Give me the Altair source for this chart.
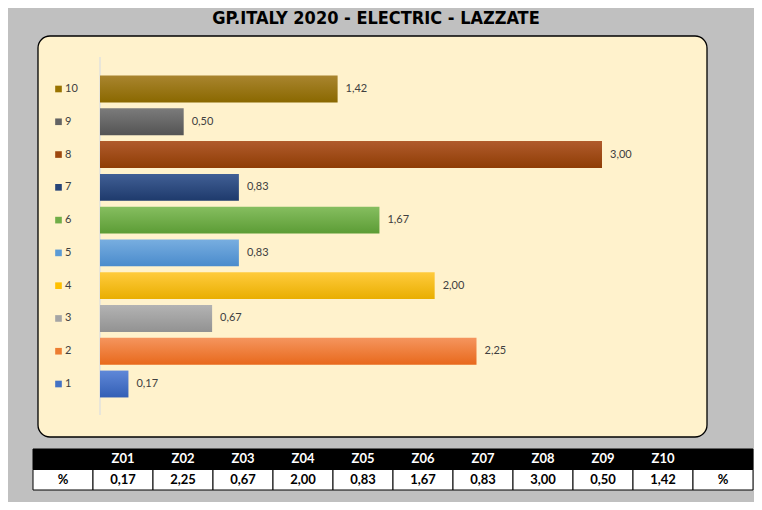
import altair as alt
import pandas as pd

# ---- data ----
zones = ["1", "2", "3", "4", "5", "6", "7", "8", "9", "10"]
values = [0.17, 2.25, 0.67, 2.00, 0.83, 1.67, 0.83, 3.00, 0.50, 1.42]
codes = ["Z01", "Z02", "Z03", "Z04", "Z05", "Z06", "Z07", "Z08", "Z09", "Z10"]
title_text = "GP.ITALY 2020 - ELECTRIC - LAZZATE"

# ---- styles ----
colors_base = ["#4472C4", "#ED7D31", "#A5A5A5", "#FFC000", "#5B9BD5",
               "#70AD47", "#264478", "#9E480E", "#636363", "#997300"]
colors_top = ["#5F88D8", "#F5955E", "#B3B3B3", "#FFCB3D", "#78AEE0",
              "#86BE60", "#415F95", "#B05B2C", "#7B7B7B", "#A9852F"]
colors_bottom = ["#335FB5", "#E8691C", "#929292", "#E9AE00", "#4A8BCC",
                 "#5C9C35", "#1E3A6C", "#8F3D05", "#545454", "#8A6800"]

labels = [f"{v:.2f}".replace(".", ",") for v in values]
df = pd.DataFrame({"zone": zones, "value": values, "base": colors_base, "label": labels})

header_cells = [""] + codes + [""]
data_cells = ["%"] + labels + ["%"]
table = pd.DataFrame(
    [{"row": "h", "col": i, "text": t} for i, t in enumerate(header_cells)]
    + [{"row": "d", "col": i, "text": t} for i, t in enumerate(data_cells)]
)

FONT = "Lato, 'Open Sans', sans-serif"
TITLE_FONT = "'Liberation Sans Narrow', 'DejaVu Sans Condensed', sans-serif"

one = alt.Data(values=[{"a": 1}])

xs = alt.Scale(domain=[0, 3], range=[92, 594], nice=False, zero=True)
ydom = list(reversed(zones))
ys = alt.Scale(domain=ydom, range=[64.6, 392.4], paddingInner=0.18, paddingOuter=0.09)

panel = alt.Chart(one).mark_rect(
    fill="#FFF2CC", stroke="black", strokeWidth=1.3, cornerRadius=12
).encode(x=alt.value(30), x2=alt.value(699), y=alt.value(28), y2=alt.value(429))

title = alt.Chart(one).mark_text(
    fontSize=18, fontWeight="bold", font=TITLE_FONT, color="black",
    baseline="top", align="center"
).encode(x=alt.value(368), y=alt.value(2), text=alt.value(title_text))

axis_rule = alt.Chart(one).mark_rule(color="#D3DAE6", strokeWidth=1).encode(
    x=alt.value(92), y=alt.value(49), y2=alt.value(407)
)

bar_layers = []
for i, z in enumerate(zones):
    grad = alt.Gradient(
        gradient="linear",
        stops=[alt.GradientStop(color=colors_top[i], offset=0),
               alt.GradientStop(color=colors_bottom[i], offset=1)],
        x1=0, x2=0, y1=0, y2=1,
    )
    bar_layers.append(
        alt.Chart(df).transform_filter(alt.datum.zone == z).mark_bar(color=grad).encode(
            x=alt.X("value:Q", scale=xs, axis=None),
            y=alt.Y("zone:N", scale=ys, axis=None),
        )
    )

value_labels = alt.Chart(df).mark_text(
    align="left", baseline="middle", dx=8, fontSize=11, font=FONT, color="#404040"
).encode(
    x=alt.X("value:Q", scale=xs, axis=None),
    y=alt.Y("zone:N", scale=ys, axis=None),
    text="label:N",
)

legend_sq = alt.Chart(df).mark_square(size=44, opacity=1, filled=True).encode(
    x=alt.value(50.5),
    y=alt.Y("zone:N", scale=ys, axis=None),
    color=alt.Color("base:N", scale=None),
)

legend_txt = alt.Chart(df).mark_text(
    align="left", baseline="middle", fontSize=11, font=FONT, color="#404040"
).encode(
    x=alt.value(57),
    y=alt.Y("zone:N", scale=ys, axis=None),
    text="zone:N",
)

tx = alt.Scale(domain=list(range(12)), range=[25, 745], paddingInner=0, paddingOuter=0)
ty = alt.Scale(domain=["h", "d"], range=[441, 482], paddingInner=0, paddingOuter=0)

table_rect = alt.Chart(table).mark_rect(stroke="black", strokeWidth=1).encode(
    x=alt.X("col:O", scale=tx, axis=None),
    y=alt.Y("row:N", scale=ty, axis=None),
    fill=alt.condition("datum.row == 'h'", alt.value("black"), alt.value("white")),
)

table_text = alt.Chart(table).mark_text(
    fontSize=13, fontWeight="bold", font=FONT, baseline="middle", align="center"
).encode(
    x=alt.X("col:O", scale=tx, axis=None),
    y=alt.Y("row:N", scale=ty, axis=None),
    text="text:N",
    color=alt.condition("datum.row == 'h'", alt.value("white"), alt.value("black")),
)

bars_group = alt.layer(*bar_layers, value_labels, legend_sq, legend_txt)
table_group = alt.layer(table_rect, table_text)

chart = alt.layer(
    panel, title, axis_rule, bars_group, table_group
).resolve_scale(
    x="independent", y="independent"
).properties(
    width=746, height=494, padding=0, autosize="none", background="#C0C0C0"
).configure_view(stroke=None)

chart.save("out.html", embed_options={"renderer": "svg", "actions": False})
